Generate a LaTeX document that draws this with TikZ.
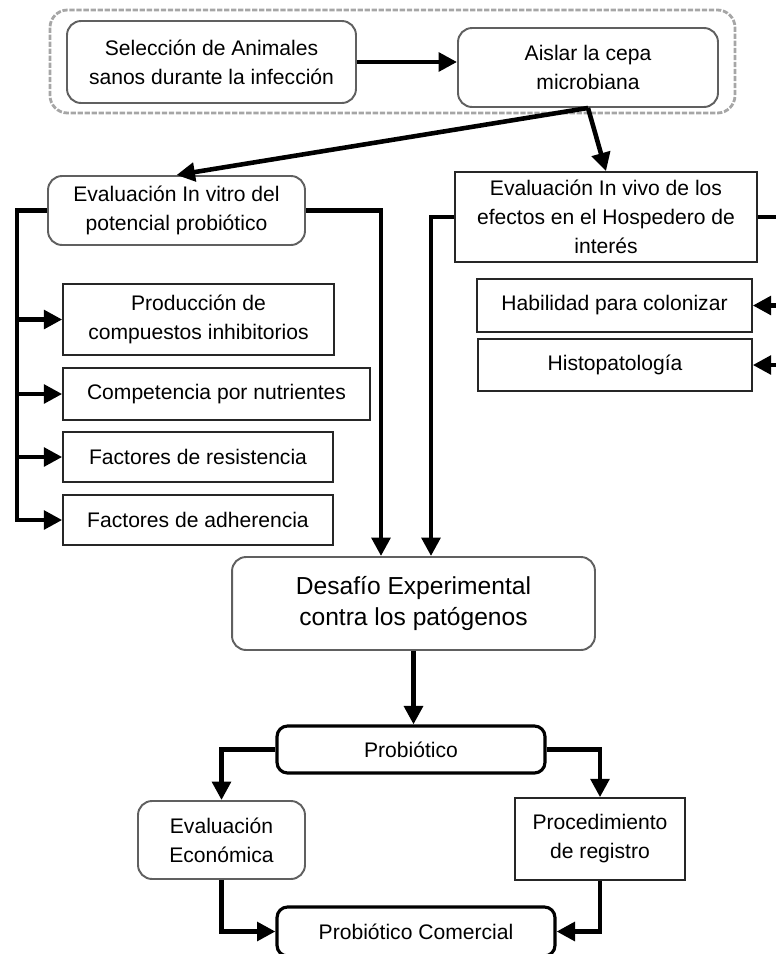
\documentclass[tikz,border=0pt]{standalone}
\usepackage{fontspec}
\setmainfont{Liberation Sans}
\usetikzlibrary{arrows.meta}

\tikzset{
    rbox/.style={draw=gray!75!black, line width=1.1pt, rounded corners=8pt, align=center,
        inner sep=2pt, font=\fontsize{12}{16.5}\selectfont},
    sbox/.style={draw=black!85, line width=0.9pt, align=center, inner sep=2pt,
        font=\fontsize{12}{16.5}\selectfont},
    kbox/.style={draw=black, line width=1.8pt, rounded corners=6pt, align=center,
        inner sep=2pt, font=\fontsize{12}{16.5}\selectfont},
    ln/.style={line width=2.6pt},
    arr/.style={line width=2.6pt, -{Triangle[length=10.5pt,width=10.5pt]}},
    frame/.style={draw=gray!70, line width=1.6pt, dash pattern=on 3pt off 1pt, rounded corners=10pt}
}

\begin{document}
\begin{tikzpicture}[x=0.02cm, y=-0.02cm]
    \useasboundingbox (0,0) rectangle (776,954);

    % selection and isolation
    \draw[frame] (50,10) rectangle (735,113);
    \node[rbox, minimum width=5.78cm, minimum height=1.64cm] (sel) at (211.5,62) {Selección de Animales\\sanos durante la infección};
    \node[rbox, minimum width=5.2cm, minimum height=1.58cm] (ais) at (588,67.5) {Aislar la cepa\\microbiana};
    \draw[arr] (sel.east) -- (sel.east -| ais.west);

    % in vitro branch
    \node[rbox, minimum width=5.14cm, minimum height=1.38cm] (vitro) at (176.5,210.5) {Evaluación In vitro del\\potencial probiótico};
    \node[sbox, minimum width=5.42cm, minimum height=1.42cm] (prod) at (198.5,319.5) {Producción de\\compuestos inhibitorios};
    \node[sbox, minimum width=6.14cm, minimum height=1.04cm] (comp) at (216.5,394) {Competencia por nutrientes};
    \node[sbox, minimum width=5.4cm, minimum height=1.0cm] (resis) at (198,457) {Factores de resistencia};
    \node[sbox, minimum width=5.4cm, minimum height=1.0cm] (adh) at (198,520) {Factores de adherencia};

    % in vivo branch
    \node[sbox, minimum width=6.04cm, minimum height=1.8cm] (vivo) at (606,217) {Evaluación In vivo de los\\efectos en el Hospedero de\\interés};
    \node[sbox, minimum width=5.5cm, minimum height=1.06cm] (hab) at (614.5,305.5) {Habilidad para colonizar};
    \node[sbox, minimum width=5.48cm, minimum height=1.04cm] (histo) at (615,365) {Histopatología};

    % challenge and product
    \node[rbox, minimum width=7.26cm, minimum height=1.86cm, font=\fontsize{14}{18}\selectfont] (desafio) at (413.5,603.5) {Desafío Experimental\\contra los patógenos};
    \node[kbox, minimum width=5.36cm, minimum height=0.94cm] (probio) at (411,749.5) {Probiótico};
    \node[rbox, minimum width=3.34cm, minimum height=1.56cm] (econ) at (221.5,840) {Evaluación\\Económica};
    \node[sbox, minimum width=3.4cm, minimum height=1.64cm] (proc) at (600,839) {Procedimiento\\de registro};
    \node[kbox, minimum width=5.56cm, minimum height=0.98cm] (comer) at (416,931.5) {Probiótico Comercial};

    \coordinate (lrail) at (17,0);
    \coordinate (vrail) at (381,0);
    \coordinate (wrail) at (431,0);
    \coordinate (erail) at (779,0);

    \draw[arr] (ais.south) -- (vitro.north);
    \draw[arr] (ais.south) -- (vivo.north);

    \draw[arr] (vitro.west) -| (lrail |- adh.west) -- (adh.west);
    \foreach \n in {prod,comp,resis}
        \draw[arr] (lrail |- \n.west) -- (\n.west);
    \draw[arr] (vitro.east) -| (vrail |- desafio.north);

    \draw[arr] (vivo.west) -| (wrail |- desafio.north);
    \draw[ln] (vivo.east) -- (erail |- vivo.east) -- (erail |- histo.east);
    \draw[arr] (erail |- hab.east) -- (hab.east);
    \draw[arr] (erail |- histo.east) -- (histo.east);

    \draw[arr] (desafio.south) -- (desafio.south |- probio.north);
    \draw[arr] (probio.west) -| (econ.north);
    \draw[arr] (probio.east) -| (proc.north);
    \draw[arr] (econ.south) |- (comer.west);
    \draw[arr] (proc.south) |- (comer.east);
\end{tikzpicture}
\end{document}
